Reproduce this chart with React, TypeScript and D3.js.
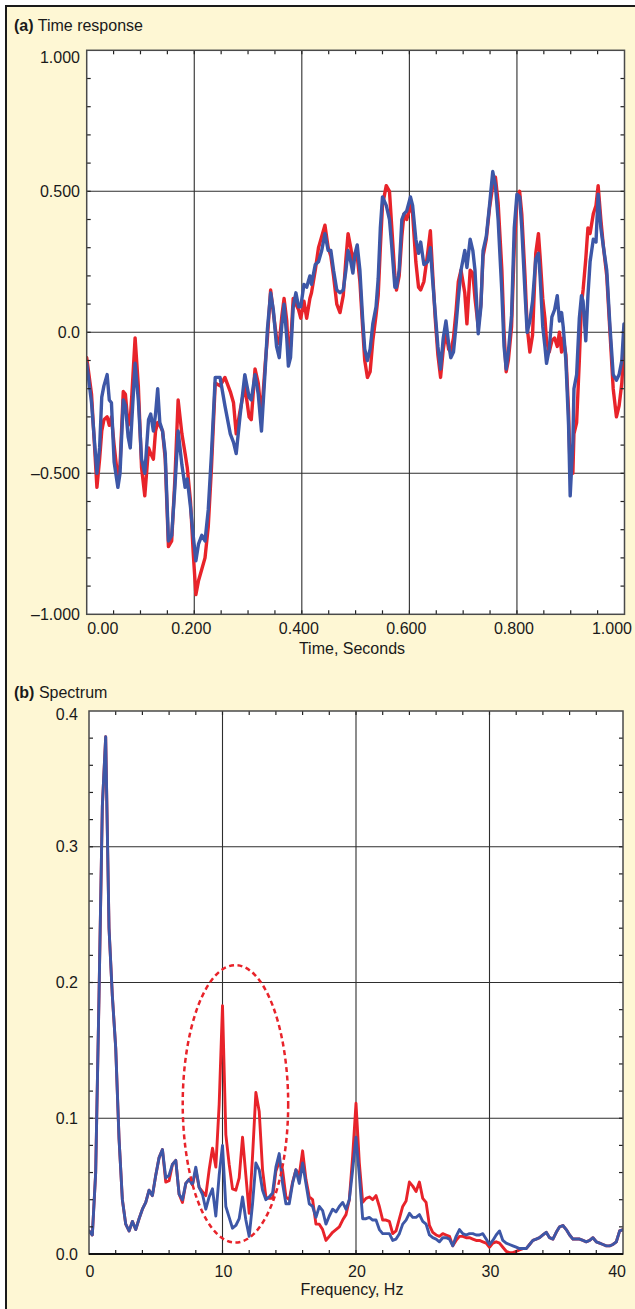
import React, { useEffect } from "react";
import * as d3 from "d3";

// ---------- (a) Time response data ----------
const timeSec = [
  0.000, 0.009, 0.019, 0.024, 0.028, 0.032, 0.038, 0.042, 0.046, 0.051,
  0.058, 0.062, 0.068, 0.072, 0.077, 0.081, 0.084, 0.090, 0.096, 0.102,
  0.108, 0.115, 0.119, 0.124, 0.128, 0.132, 0.136, 0.141, 0.146, 0.152,
  0.158, 0.164, 0.170, 0.177, 0.183, 0.187, 0.193, 0.198, 0.203, 0.208,
  0.214, 0.220, 0.226, 0.232,
  0.239, 0.248, 0.257, 0.267, 0.273, 0.278, 0.285, 0.294, 0.302, 0.306,
  0.313, 0.319, 0.325, 0.332, 0.336, 0.342, 0.347, 0.353, 0.358, 0.363,
  0.367, 0.372, 0.375, 0.379, 0.384, 0.389, 0.394, 0.398, 0.404, 0.409,
  0.415, 0.418, 0.425, 0.431, 0.437, 0.443, 0.449, 0.454, 0.459, 0.465,
  0.471, 0.477, 0.482, 0.486, 0.491, 0.495, 0.499, 0.503, 0.508, 0.513,
  0.517, 0.522, 0.527,
  0.532, 0.538, 0.542, 0.546, 0.550, 0.557, 0.563, 0.567, 0.573, 0.576,
  0.581, 0.586, 0.590, 0.595, 0.602, 0.606, 0.612, 0.617, 0.621, 0.627,
  0.634, 0.639, 0.643, 0.648, 0.653, 0.658, 0.663, 0.668, 0.673, 0.677,
  0.682, 0.687, 0.691, 0.696, 0.703, 0.707, 0.713, 0.718, 0.722, 0.728,
  0.733, 0.737, 0.743, 0.749, 0.755, 0.760, 0.765, 0.772, 0.776, 0.780,
  0.784, 0.790, 0.795, 0.800, 0.805, 0.809, 0.815, 0.819, 0.824, 0.829,
  0.835, 0.840, 0.843, 0.848, 0.852, 0.855, 0.860, 0.865, 0.870, 0.875,
  0.879, 0.883, 0.886, 0.891, 0.896, 0.899, 0.904, 0.906, 0.911, 0.916,
  0.920, 0.923, 0.928, 0.932, 0.936, 0.942, 0.947, 0.951, 0.956, 0.961,
  0.967, 0.973, 0.979, 0.985, 0.990, 0.995, 0.999,
];

const blueTime = [
  -0.11, -0.25, -0.50, -0.41, -0.23, -0.19, -0.15, -0.24, -0.25, -0.46,
  -0.55, -0.50, -0.24, -0.26, -0.37, -0.41, -0.31, -0.11, -0.24, -0.45,
  -0.50, -0.31, -0.29, -0.35, -0.29, -0.20, -0.32, -0.35, -0.43, -0.74,
  -0.72, -0.55, -0.35, -0.47, -0.55, -0.52, -0.62, -0.72, -0.81, -0.75,
  -0.72, -0.74, -0.63, -0.43,
  -0.16, -0.16, -0.26, -0.36, -0.39, -0.43, -0.30, -0.15, -0.23, -0.24,
  -0.15, -0.22, -0.35, -0.13, 0.01, 0.14, 0.08, -0.05, -0.09, 0.03,
  0.10, -0.02, -0.12, -0.09, 0.09, 0.14, 0.09, 0.09, 0.17, 0.16,
  0.20, 0.17, 0.24, 0.25, 0.29, 0.35, 0.29, 0.29, 0.22, 0.15,
  0.14, 0.15, 0.22, 0.29, 0.25, 0.21, 0.28, 0.31, 0.22, 0.05,
  -0.06, -0.10, -0.06,
  0.03, 0.09, 0.19, 0.37, 0.48, 0.45, 0.40, 0.31, 0.16, 0.16,
  0.22, 0.40, 0.42, 0.43, 0.48, 0.45, 0.33, 0.28, 0.32, 0.24,
  0.25, 0.30, 0.19, 0.07, -0.05, -0.13, -0.02, 0.04, -0.04, -0.09,
  -0.07, 0.03, 0.12, 0.22, 0.29, 0.23, 0.33, 0.29, 0.22, -0.005,
  0.09, 0.29, 0.34, 0.45, 0.57, 0.52, 0.40, 0.14, -0.05, -0.13,
  -0.07, 0.06, 0.37, 0.49, 0.48, 0.37, 0.14, 0.00, 0.04, 0.11,
  0.26, 0.28, 0.20, 0.02, -0.05, -0.11, -0.06, 0.055, 0.08, 0.13,
  0.04, 0.07, 0.02, -0.10, -0.33, -0.58, -0.39, -0.20, -0.15, 0.05,
  0.13, 0.11, -0.03, 0.13, 0.25, 0.33, 0.32, 0.49, 0.37, 0.30,
  0.22, 0.02, -0.15, -0.17, -0.15, -0.10, 0.03,
];

const redTime = [
  -0.09, -0.22, -0.55, -0.45, -0.35, -0.31, -0.30, -0.33, -0.30, -0.40,
  -0.52, -0.47, -0.21, -0.22, -0.33, -0.31, -0.22, -0.02, -0.19, -0.48,
  -0.58, -0.41, -0.43, -0.45, -0.35, -0.32, -0.33, -0.35, -0.45, -0.76,
  -0.74, -0.52, -0.24, -0.36, -0.43, -0.48, -0.60, -0.78, -0.93, -0.88,
  -0.84, -0.80, -0.69, -0.48,
  -0.18, -0.19, -0.16, -0.21, -0.25, -0.36, -0.28, -0.19, -0.30, -0.31,
  -0.13, -0.18, -0.30, -0.11, -0.02, 0.15, 0.07, -0.02, -0.04, 0.06,
  0.12, 0.04, -0.07, -0.05, 0.12, 0.10, 0.08, 0.05, 0.11, 0.05,
  0.12, 0.14, 0.22, 0.30, 0.34, 0.38, 0.30, 0.27, 0.20, 0.10,
  0.07, 0.13, 0.26, 0.35, 0.30, 0.25, 0.28, 0.27, 0.18, 0.02,
  -0.10, -0.16, -0.14,
  -0.03, 0.06, 0.13, 0.30, 0.45, 0.52, 0.50, 0.38, 0.20, 0.15,
  0.20, 0.34, 0.42, 0.40, 0.45, 0.42, 0.25, 0.16, 0.15, 0.18,
  0.28, 0.36, 0.22, 0.05, -0.08, -0.16, -0.06, 0.00, -0.06, -0.07,
  -0.02, 0.08, 0.18, 0.22, 0.14, 0.03, 0.22, 0.21, 0.12, 0.02,
  0.10, 0.27, 0.33, 0.44, 0.52, 0.55, 0.46, 0.22, 0.00, -0.14,
  -0.10, 0.02, 0.30, 0.47, 0.50, 0.42, 0.20, 0.02, -0.07, -0.01,
  0.28, 0.35, 0.27, 0.12, 0.05, -0.03, -0.07, -0.03, -0.02, -0.05,
  0.00, -0.07, -0.02, -0.08, -0.28, -0.50, -0.50, -0.36, -0.32, -0.10,
  0.10, 0.15, 0.26, 0.37, 0.35, 0.42, 0.45, 0.52, 0.40, 0.30,
  0.20, 0.00, -0.20, -0.30, -0.26, -0.18, -0.05,
];

// ---------- (b) Spectrum data (0..40 Hz, 0.25 Hz bins) ----------
const freqHz = d3.range(0, 40.001, 0.25);

const blueSpec = [
  // 0 - 4.75
  0.017, 0.014, 0.060, 0.190, 0.330, 0.381, 0.240, 0.190, 0.152, 0.085,
  0.040, 0.022, 0.017, 0.024, 0.018, 0.026, 0.033, 0.038, 0.047, 0.043,
  // 5 - 9.75
  0.058, 0.071, 0.077, 0.056, 0.058, 0.066, 0.069, 0.044, 0.040, 0.052,
  0.055, 0.051, 0.064, 0.049, 0.044, 0.033, 0.042, 0.048, 0.028, 0.058,
  // 10 - 14.75
  0.080, 0.035, 0.027, 0.019, 0.021, 0.026, 0.042, 0.025, 0.013, 0.037,
  0.067, 0.062, 0.047, 0.040, 0.042, 0.045, 0.064, 0.074, 0.052, 0.037,
  // 15 - 19.75
  0.037, 0.052, 0.062, 0.052, 0.067, 0.052, 0.037, 0.035, 0.027, 0.035,
  0.032, 0.022, 0.028, 0.033, 0.031, 0.035, 0.038, 0.033, 0.040, 0.062,
  // 20 - 24.75
  0.086, 0.058, 0.026, 0.026, 0.027, 0.025, 0.025, 0.018, 0.015, 0.015,
  0.015, 0.010, 0.011, 0.015, 0.022, 0.025, 0.030, 0.027, 0.027, 0.029,
  // 25 - 29.75
  0.024, 0.022, 0.014, 0.012, 0.011, 0.009, 0.012, 0.012, 0.011, 0.006,
  0.013, 0.018, 0.015, 0.014, 0.015, 0.015, 0.014, 0.014, 0.015, 0.011,
  // 30 - 34.75
  0.007, 0.010, 0.014, 0.017, 0.010, 0.008, 0.007, 0.006, 0.005, 0.004,
  0.004, 0.004, 0.007, 0.010, 0.011, 0.012, 0.014, 0.016, 0.012, 0.011,
  // 35 - 40
  0.016, 0.020, 0.021, 0.018, 0.014, 0.011, 0.011, 0.011, 0.010, 0.009,
  0.010, 0.012, 0.009, 0.008, 0.007, 0.006, 0.006, 0.007, 0.009, 0.017,
  0.018,
];

const redSpec = [
  // 0 - 4.75
  0.017, 0.014, 0.060, 0.190, 0.330, 0.381, 0.240, 0.190, 0.152, 0.085,
  0.040, 0.022, 0.017, 0.024, 0.018, 0.026, 0.033, 0.038, 0.047, 0.043,
  // 5 - 9.75
  0.058, 0.071, 0.077, 0.053, 0.054, 0.066, 0.069, 0.044, 0.038, 0.052,
  0.055, 0.051, 0.062, 0.049, 0.046, 0.043, 0.062, 0.078, 0.064, 0.110,
  // 10 - 14.75
  0.183, 0.088, 0.066, 0.048, 0.047, 0.056, 0.086, 0.058, 0.030, 0.072,
  0.119, 0.105, 0.062, 0.042, 0.041, 0.041, 0.061, 0.068, 0.062, 0.042,
  // 15 - 19.75
  0.040, 0.053, 0.062, 0.058, 0.076, 0.055, 0.042, 0.040, 0.022, 0.022,
  0.018, 0.010, 0.013, 0.016, 0.018, 0.020, 0.025, 0.029, 0.040, 0.072,
  // 20 - 24.75
  0.111, 0.067, 0.038, 0.041, 0.042, 0.040, 0.043, 0.035, 0.025, 0.025,
  0.024, 0.015, 0.017, 0.026, 0.035, 0.039, 0.053, 0.050, 0.046, 0.053,
  // 25 - 29.75
  0.041, 0.038, 0.021, 0.016, 0.014, 0.013, 0.015, 0.014, 0.013, 0.006,
  0.010, 0.013, 0.013, 0.012, 0.012, 0.011, 0.010, 0.010, 0.009, 0.008,
  // 30 - 34.75
  0.005, 0.008, 0.009, 0.008, 0.005, 0.002, 0.001, 0.001, 0.002, 0.003,
  0.004, 0.004, 0.007, 0.010, 0.011, 0.012, 0.014, 0.016, 0.012, 0.011,
  // 35 - 40
  0.016, 0.020, 0.021, 0.018, 0.014, 0.011, 0.011, 0.011, 0.010, 0.009,
  0.010, 0.012, 0.009, 0.008, 0.007, 0.006, 0.006, 0.007, 0.009, 0.017,
  0.018,
];

// ---------- ticks & labels ----------
const timeTicks = [0, 0.2, 0.4, 0.6, 0.8, 1.0];
const timeTickLabels = ["0.00", "0.200", "0.400", "0.600", "0.800", "1.000"];
const ampTicks = [1, 0.5, 0, -0.5, -1];
const ampTickLabels = ["1.000", "0.500", "0.0", "\u20130.500", "\u20131.000"];
const freqTicks = [0, 10, 20, 30, 40];
const freqTickLabels = ["0", "10", "20", "30", "40"];
const specTicks = [0.4, 0.3, 0.2, 0.1, 0.0];
const specTickLabels = ["0.4", "0.3", "0.2", "0.1", "0.0"];

// ellipse around 10-13 Hz (centre Hz, centre value, radius Hz, radius value)
const ellipseSpec = [10.97, 0.1106, 3.95, 0.1022];

const RED = "#E8232A";
const BLUE = "#3D57A7";
const CREAM = "#FEF7D4";
const FONT = "'Liberation Sans', Arial, Helvetica, sans-serif";

const PA = { left: 86.7, right: 624.5, top: 50.3, bottom: 614.3 };
const PB = { left: 89, right: 623, top: 711, bottom: 1254 };

export default function App() {
  useEffect(() => {
    document.body.style.margin = "0";
  }, []);

  const xA = d3.scaleLinear().domain([0, 1]).range([PA.left, PA.right]);
  const yA = d3.scaleLinear().domain([-1, 1]).range([PA.bottom, PA.top]);
  const xB = d3.scaleLinear().domain([0, 40]).range([PB.left, PB.right]);
  const yB = d3.scaleLinear().domain([0, 0.4]).range([PB.bottom, PB.top]);

  const lineA = d3
    .line<number>()
    .x((_, i) => xA(timeSec[i]))
    .y((d) => yA(d));
  const lineB = d3
    .line<number>()
    .x((_, i) => xB(freqHz[i]))
    .y((d) => yB(d));

  const minorXA = d3.range(0.05, 1, 0.05);
  const minorYA = d3.range(-0.9, 1, 0.1);
  const minorXB = d3.range(2, 40, 2);
  const minorYB = d3.range(0.02, 0.4, 0.02);
  const tl = 4;
  const gridColor = "#2e2e2e";
  const frameColor = "#4a4a4a";

  const textStyle: React.CSSProperties = { fontFamily: FONT, fontSize: 16, fill: "#1a1a1a" };

  return (
    <div style={{ position: "absolute", left: 0, top: 0 }}>
      <svg width={635} height={1309} style={{ display: "block" }}>
        <defs>
          <clipPath id="clipA">
            <rect x={PA.left} y={PA.top} width={PA.right - PA.left} height={PA.bottom - PA.top} />
          </clipPath>
          <clipPath id="clipB">
            <rect x={PB.left} y={PB.top} width={PB.right - PB.left} height={PB.bottom - PB.top} />
          </clipPath>
        </defs>
        <rect x={0} y={0} width={635} height={1309} fill="#ffffff" />
        <rect x={6} y={6} width={629} height={1303} fill={CREAM} />
        <line x1={6} y1={5} x2={6} y2={1309} stroke="#1a1a1a" strokeWidth={2} />
        <line x1={5} y1={6} x2={635} y2={6} stroke="#1a1a1a" strokeWidth={2} />

        {/* ---------- Panel (a) ---------- */}
        <text x={14} y={31} style={textStyle}>
          <tspan fontWeight="bold">(a)</tspan>
          <tspan> Time response</tspan>
        </text>
        <rect x={PA.left} y={PA.top} width={PA.right - PA.left} height={PA.bottom - PA.top} fill="#fff" />
        {timeTicks.slice(1, -1).map((t) => (
          <line key={"gxa" + t} x1={xA(t)} x2={xA(t)} y1={PA.top} y2={PA.bottom} stroke={gridColor} strokeWidth={1.1} />
        ))}
        {ampTicks.slice(1, -1).map((v) => (
          <line key={"gya" + v} x1={PA.left} x2={PA.right} y1={yA(v)} y2={yA(v)} stroke={gridColor} strokeWidth={1.1} />
        ))}
        <g clipPath="url(#clipA)" fill="none" strokeLinejoin="round" strokeLinecap="round">
          <path d={lineA(redTime) || ""} stroke={RED} strokeWidth={3.4} />
          <path d={lineA(blueTime) || ""} stroke={BLUE} strokeWidth={3.4} />
        </g>
        {minorXA.map((t) => (
          <g key={"mxa" + t}>
            <line x1={xA(t)} x2={xA(t)} y1={PA.bottom} y2={PA.bottom - tl} stroke="#222" strokeWidth={1.2} />
            <line x1={xA(t)} x2={xA(t)} y1={PA.top} y2={PA.top + tl} stroke="#222" strokeWidth={1.2} />
          </g>
        ))}
        {minorYA.map((v) => (
          <g key={"mya" + v}>
            <line x1={PA.left} x2={PA.left + tl} y1={yA(v)} y2={yA(v)} stroke="#222" strokeWidth={1.2} />
            <line x1={PA.right} x2={PA.right - tl} y1={yA(v)} y2={yA(v)} stroke="#222" strokeWidth={1.2} />
          </g>
        ))}
        <rect x={PA.left} y={PA.top} width={PA.right - PA.left} height={PA.bottom - PA.top} fill="none" stroke={frameColor} strokeWidth={1.5} />
        {ampTicks.map((v, i) => (
          <text key={"lya" + v} x={80} y={yA(v) + (i === 0 ? 7 : 0)} textAnchor="end" dominantBaseline="central" style={textStyle}>
            {ampTickLabels[i]}
          </text>
        ))}
        {timeTicks.map((t, i) => {
          const first = i === 0;
          const last = i === timeTicks.length - 1;
          return (
            <text
              key={"lxa" + t}
              x={first ? xA(t) + 0.5 : last ? 632 : xA(t) - 3}
              y={634}
              textAnchor={first ? "start" : last ? "end" : "middle"}
              style={textStyle}
            >
              {timeTickLabels[i]}
            </text>
          );
        })}
        <text x={352} y={654} textAnchor="middle" style={textStyle}>
          Time, Seconds
        </text>

        {/* ---------- Panel (b) ---------- */}
        <text x={14} y={698} style={textStyle}>
          <tspan fontWeight="bold">(b)</tspan>
          <tspan> Spectrum</tspan>
        </text>
        <rect x={PB.left} y={PB.top} width={PB.right - PB.left} height={PB.bottom - PB.top} fill="#fff" />
        {freqTicks.slice(1, -1).map((f) => (
          <line key={"gxb" + f} x1={xB(f)} x2={xB(f)} y1={PB.top} y2={PB.bottom} stroke={gridColor} strokeWidth={1.1} />
        ))}
        {specTicks.slice(1, -1).map((v) => (
          <line key={"gyb" + v} x1={PB.left} x2={PB.right} y1={yB(v)} y2={yB(v)} stroke={gridColor} strokeWidth={1.1} />
        ))}
        <g clipPath="url(#clipB)" fill="none" strokeLinejoin="round" strokeLinecap="round">
          <path d={lineB(redSpec) || ""} stroke={RED} strokeWidth={2.9} />
          <path d={lineB(blueSpec) || ""} stroke={BLUE} strokeWidth={2.9} />
        </g>
        <ellipse
          cx={xB(ellipseSpec[0])}
          cy={yB(ellipseSpec[1])}
          rx={xB(ellipseSpec[2]) - xB(0)}
          ry={yB(0) - yB(ellipseSpec[3])}
          fill="none"
          stroke={RED}
          strokeWidth={2.5}
          strokeDasharray="5 3.5"
        />
        {minorXB.map((f) => (
          <g key={"mxb" + f}>
            <line x1={xB(f)} x2={xB(f)} y1={PB.bottom} y2={PB.bottom - tl} stroke="#222" strokeWidth={1.2} />
            <line x1={xB(f)} x2={xB(f)} y1={PB.top} y2={PB.top + tl} stroke="#222" strokeWidth={1.2} />
          </g>
        ))}
        {minorYB.map((v) => (
          <g key={"myb" + v}>
            <line x1={PB.left} x2={PB.left + tl} y1={yB(v)} y2={yB(v)} stroke="#222" strokeWidth={1.2} />
            <line x1={PB.right} x2={PB.right - tl} y1={yB(v)} y2={yB(v)} stroke="#222" strokeWidth={1.2} />
          </g>
        ))}
        <rect x={PB.left} y={PB.top} width={PB.right - PB.left} height={PB.bottom - PB.top} fill="none" stroke={frameColor} strokeWidth={1.5} />
        <line x1={PB.left} x2={PB.right} y1={PB.bottom} y2={PB.bottom} stroke="#111" strokeWidth={2.2} />
        {specTicks.map((v, i) => (
          <text key={"lyb" + v} x={78} y={yB(v) + (i === 0 ? 3 : 0)} textAnchor="end" dominantBaseline="central" style={textStyle}>
            {specTickLabels[i]}
          </text>
        ))}
        {freqTicks.map((f, i) => {
          const last = i === freqTicks.length - 1;
          return (
            <text
              key={"lxb" + f}
              x={last ? 626 : xB(f) + 1}
              y={1277}
              textAnchor={last ? "end" : "middle"}
              style={textStyle}
            >
              {freqTickLabels[i]}
            </text>
          );
        })}
        <text x={352} y={1295} textAnchor="middle" style={textStyle}>
          Frequency, Hz
        </text>
      </svg>
    </div>
  );
}
